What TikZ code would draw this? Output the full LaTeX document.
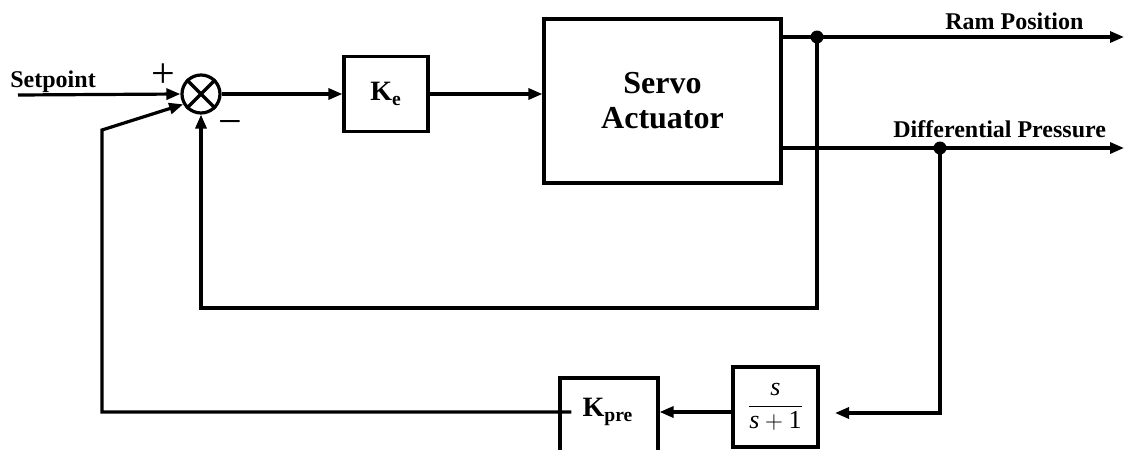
\documentclass[tikz,border=0pt]{standalone}
\usepackage{fontspec}
\setmainfont{Liberation Serif}
\usetikzlibrary{arrows.meta,calc}

\tikzset{
  wire/.style={line width=1.6pt},
  flow/.style={wire,-{Triangle[length=7pt,width=5.5pt]}},
  blockbox/.style={draw,line width=1.6pt,rectangle,inner sep=0pt},
  junction/.style={circle,fill,inner sep=0pt,minimum size=6.5pt},
  lbl/.style={font=\fontsize{12}{14}\selectfont\bfseries,inner sep=0pt},
  sign/.style={inner sep=0pt,font=\fontsize{21}{21}\selectfont},
}

\begin{document}
\begin{tikzpicture}[x=0.5pt,y=-0.5pt]
\useasboundingbox (0,0) rectangle (1126,450);
\clip (0,0) rectangle (1126,450);

% summing junction
\node[draw,circle,line width=1.6pt,minimum size=19pt,inner sep=0pt] (sum) at (201,94) {};
\draw[wire] (sum.45) -- (sum.225) (sum.135) -- (sum.315);
\node[sign] (plus) at (163,76) {+};
\node[sign] (minus) at (230,128) {−};

% blocks
\node[blockbox,minimum width=42pt,minimum height=37.5pt,
      font=\fontsize{14}{16}\selectfont\bfseries] (ke) at (386,94) {K\textsubscript{e}};
\node[blockbox,minimum width=118.5pt,minimum height=82pt,align=center,
      font=\fontsize{16}{17.5}\selectfont\bfseries] (servo) at (662.5,101) {Servo\\Actuator};
\node[blockbox,minimum width=42.5pt,minimum height=40pt,
      font=\fontsize{13}{15}\selectfont] (frac) at (775.5,407)
      {$\displaystyle\frac{\textit{s}}{\textit{s}+\textrm{1}}$};
\node[blockbox,minimum width=49pt,minimum height=41pt] (kpre) at (609,419) {};
\node[inner sep=0pt,font=\fontsize{14}{16}\selectfont\bfseries] (kpretext) at (608,412) {K\textsubscript{pre}};

% fixed points of the wiring
\coordinate (spin) at (18,95);
\coordinate (ramdot) at (817,37);
\coordinate (dpdot) at (940,148);
\coordinate (ramend) at (1124,37);
\coordinate (dpend) at (1124,148);
\coordinate (fbcorner) at (201,308);
\coordinate (fracin) at (835,413);
\coordinate (lcorner) at (102,130);

% labels
\node[lbl,anchor=base west] (setlbl) at (10,87) {Setpoint};
\node[lbl,anchor=base west] (ramlbl) at (945,29) {Ram Position};
\node[lbl,anchor=base west] (dplbl) at (893,137) {Differential Pressure};

% forward path
\draw[flow] (spin) -- (sum.west);
\draw[flow] (sum.east) -- (ke.west |- sum.east);
\draw[flow] (ke.east) -- (servo.west |- ke.east);
\draw[flow] (servo.east |- ramdot) -- (ramend);
\draw[flow] (servo.east |- dpdot) -- (dpend);

% position feedback
\draw[flow] (ramdot) |- (fbcorner) -- (sum.south);

% pressure feedback
\draw[flow] (dpdot) |- (fracin);
\draw[flow] (frac.west |- kpretext) -- (kpre.east |- kpretext);
\draw[flow] ($(kpre.west |- kpretext)+(13,0)$) -| (lcorner) -- (sum.210);

% junction dots
\node[junction] (j1) at (ramdot) {};
\node[junction] (j2) at (dpdot) {};
\end{tikzpicture}
\end{document}
